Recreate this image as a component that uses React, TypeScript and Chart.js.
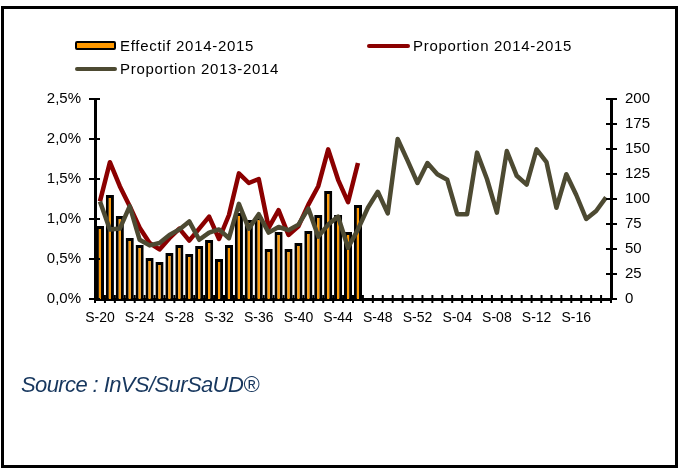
import React, { useEffect, useRef } from 'react';
import { Chart, registerables } from 'chart.js';

Chart.register(...registerables);

const weeks = [
  'S-20', 'S-21', 'S-22', 'S-23', 'S-24', 'S-25', 'S-26', 'S-27', 'S-28', 'S-29',
  'S-30', 'S-31', 'S-32', 'S-33', 'S-34', 'S-35', 'S-36', 'S-37', 'S-38', 'S-39',
  'S-40', 'S-41', 'S-42', 'S-43', 'S-44', 'S-45', 'S-46', 'S-47', 'S-48', 'S-49',
  'S-50', 'S-51', 'S-52', 'S-01', 'S-02', 'S-03', 'S-04', 'S-05', 'S-06', 'S-07',
  'S-08', 'S-09', 'S-10', 'S-11', 'S-12', 'S-13', 'S-14', 'S-15', 'S-16', 'S-17',
  'S-18', 'S-19',
];

const effectif20142015 = [
  73, 104, 83, 61, 54, 41, 37, 46, 54, 45, 53, 59, 40, 54, 86, 79, 82, 50, 67, 50,
  56, 68, 84, 108, 84, 67, 94,
];

const proportion20142015 = [
  1.22, 1.71, 1.41, 1.16, 0.89, 0.7, 0.62, 0.76, 0.88, 0.73, 0.88, 1.03, 0.75, 1.05,
  1.57, 1.45, 1.5, 0.89, 1.11, 0.8, 0.91, 1.18, 1.41, 1.87, 1.49, 1.21, 1.7,
];

const proportion20132014 = [
  1.22, 0.87, 0.88, 1.16, 0.74, 0.67, 0.7, 0.8, 0.87, 0.97, 0.74, 0.83, 0.87, 0.76,
  1.19, 0.88, 1.06, 0.83, 0.9, 0.86, 0.93, 1.13, 0.78, 0.93, 1.03, 0.64, 0.87, 1.14,
  1.34, 1.07, 2.0, 1.73, 1.45, 1.7, 1.56, 1.49, 1.06, 1.06, 1.83, 1.5, 1.08, 1.85,
  1.54, 1.43, 1.87, 1.71, 1.14, 1.56, 1.3, 1.0, 1.1, 1.27,
];

const seriesLabels = ['Effectif 2014-2015', 'Proportion 2014-2015', 'Proportion 2013-2014'];
const seriesColors = ['#FF9900', '#8B0000', '#4D4A32'];
const sourceText = 'Source : InVS/SurSaUD®';

const FONT = "'Liberation Sans', Arial, sans-serif";

const crossTicks = {
  id: 'crossTicks',
  afterDraw(chart: any) {
    const ctx = chart.ctx;
    const x = chart.scales.x;
    const y = chart.scales.y;
    const y1 = chart.scales.y1;
    ctx.save();
    ctx.strokeStyle = '#000';
    ctx.lineWidth = 2;
    ctx.beginPath();
    y.ticks.forEach((t: any) => {
      const py = y.getPixelForValue(t.value);
      ctx.moveTo(y.right - 6, py);
      ctx.lineTo(y.right + 5, py);
    });
    y1.ticks.forEach((t: any) => {
      const py = y1.getPixelForValue(t.value);
      ctx.moveTo(y1.left - 5, py);
      ctx.lineTo(y1.left + 6, py);
    });
    for (let k = 0; k <= weeks.length; k++) {
      const px = x.getPixelForValue(k - 0.5);
      ctx.moveTo(px, x.top - 4);
      ctx.lineTo(px, x.top + 4);
    }
    ctx.stroke();
    ctx.restore();
  },
};

export default function App() {
  const ref = useRef<HTMLCanvasElement>(null);

  useEffect(() => {
    document.body.style.margin = '0';
    const chart = new Chart(ref.current as HTMLCanvasElement, {
      type: 'bar',
      data: {
        labels: weeks,
        datasets: [
          {
            type: 'bar',
            label: seriesLabels[0],
            data: effectif20142015,
            yAxisID: 'y1',
            backgroundColor: seriesColors[0],
            borderColor: '#000',
            borderWidth: 3,
            barPercentage: 0.82,
            categoryPercentage: 1,
            order: 3,
          },
          {
            type: 'line',
            label: seriesLabels[1],
            data: proportion20142015,
            yAxisID: 'y',
            borderColor: seriesColors[1],
            borderWidth: 4.5,
            pointRadius: 0,
            tension: 0,
            borderJoinStyle: 'round',
            order: 2,
          },
          {
            type: 'line',
            label: seriesLabels[2],
            data: proportion20132014,
            yAxisID: 'y',
            borderColor: seriesColors[2],
            borderWidth: 4.5,
            pointRadius: 0,
            tension: 0,
            borderJoinStyle: 'round',
            order: 1,
          },
        ],
      } as any,
      options: {
        responsive: false,
        animation: false,
        devicePixelRatio: 1,
        layout: { padding: { top: 99, left: 0, right: 0, bottom: 0 } },
        plugins: { legend: { display: false }, tooltip: { enabled: false } },
        scales: {
          x: {
            type: 'category',
            offset: true,
            grid: { display: false, drawTicks: false },
            border: { display: true, color: '#000', width: 3 },
            ticks: {
              autoSkip: false,
              maxRotation: 0,
              minRotation: 0,
              padding: 11,
              color: '#000',
              font: { family: FONT, size: 14 },
              callback: (_v: any, i: number) => (i % 4 === 0 ? weeks[i] : ''),
            },
            afterFit: (s: any) => {
              s.height = 473 - 299;
            },
          },
          y: {
            position: 'left',
            min: 0,
            max: 2.5,
            grid: { display: false, drawTicks: false },
            border: { display: true, color: '#000', width: 3 },
            ticks: {
              stepSize: 0.5,
              padding: 14,
              color: '#000',
              font: { family: FONT, size: 15 },
              callback: (v: any) => Number(v).toFixed(1).replace('.', ',') + '%',
            },
            afterFit: (s: any) => {
              s.width = 95;
            },
          },
          y1: {
            position: 'right',
            min: 0,
            max: 200,
            grid: { display: false, drawTicks: false },
            border: { display: true, color: '#000', width: 3 },
            ticks: {
              stepSize: 25,
              padding: 14,
              color: '#000',
              font: { family: FONT, size: 15 },
            },
            afterFit: (s: any) => {
              s.width = 680 - 611;
            },
          },
        },
      } as any,
      plugins: [crossTicks],
    });
    return () => chart.destroy();
  }, []);

  const textStyle: React.CSSProperties = {
    position: 'absolute',
    fontSize: 15,
    lineHeight: '17px',
    letterSpacing: '0.7px',
    color: '#000',
    whiteSpace: 'nowrap',
  };

  return (
    <div
      style={{
        position: 'relative',
        width: 680,
        height: 473,
        overflow: 'hidden',
        background: '#fff',
        fontFamily: FONT,
      }}
    >
      <canvas ref={ref} width={680} height={473} style={{ position: 'absolute', left: 0, top: 0 }} />
      <div
        style={{
          position: 'absolute',
          left: 1,
          top: 6,
          width: 677,
          height: 462,
          border: '3px solid #000',
          boxSizing: 'border-box',
          pointerEvents: 'none',
        }}
      />
      {/* legend */}
      <div
        style={{
          position: 'absolute',
          left: 75,
          top: 41,
          width: 41,
          height: 9,
          background: seriesColors[0],
          border: '2.5px solid #000',
          boxSizing: 'border-box',
          borderRadius: 2,
        }}
      />
      <div style={{ ...textStyle, left: 120, top: 37 }}>{seriesLabels[0]}</div>
      <div
        style={{
          position: 'absolute',
          left: 367,
          top: 44,
          width: 43,
          height: 4,
          background: seriesColors[1],
          borderRadius: 2,
        }}
      />
      <div style={{ ...textStyle, left: 413, top: 37 }}>{seriesLabels[1]}</div>
      <div
        style={{
          position: 'absolute',
          left: 75,
          top: 67,
          width: 42,
          height: 4,
          background: seriesColors[2],
          borderRadius: 2,
        }}
      />
      <div style={{ ...textStyle, left: 120, top: 60 }}>{seriesLabels[2]}</div>
      {/* source */}
      <div
        style={{
          position: 'absolute',
          left: 21,
          top: 374,
          fontSize: 22,
          lineHeight: '22px',
          fontStyle: 'italic',
          letterSpacing: '-0.6px',
          color: '#17375E',
          whiteSpace: 'nowrap',
        }}
      >
        {sourceText}
      </div>
    </div>
  );
}
